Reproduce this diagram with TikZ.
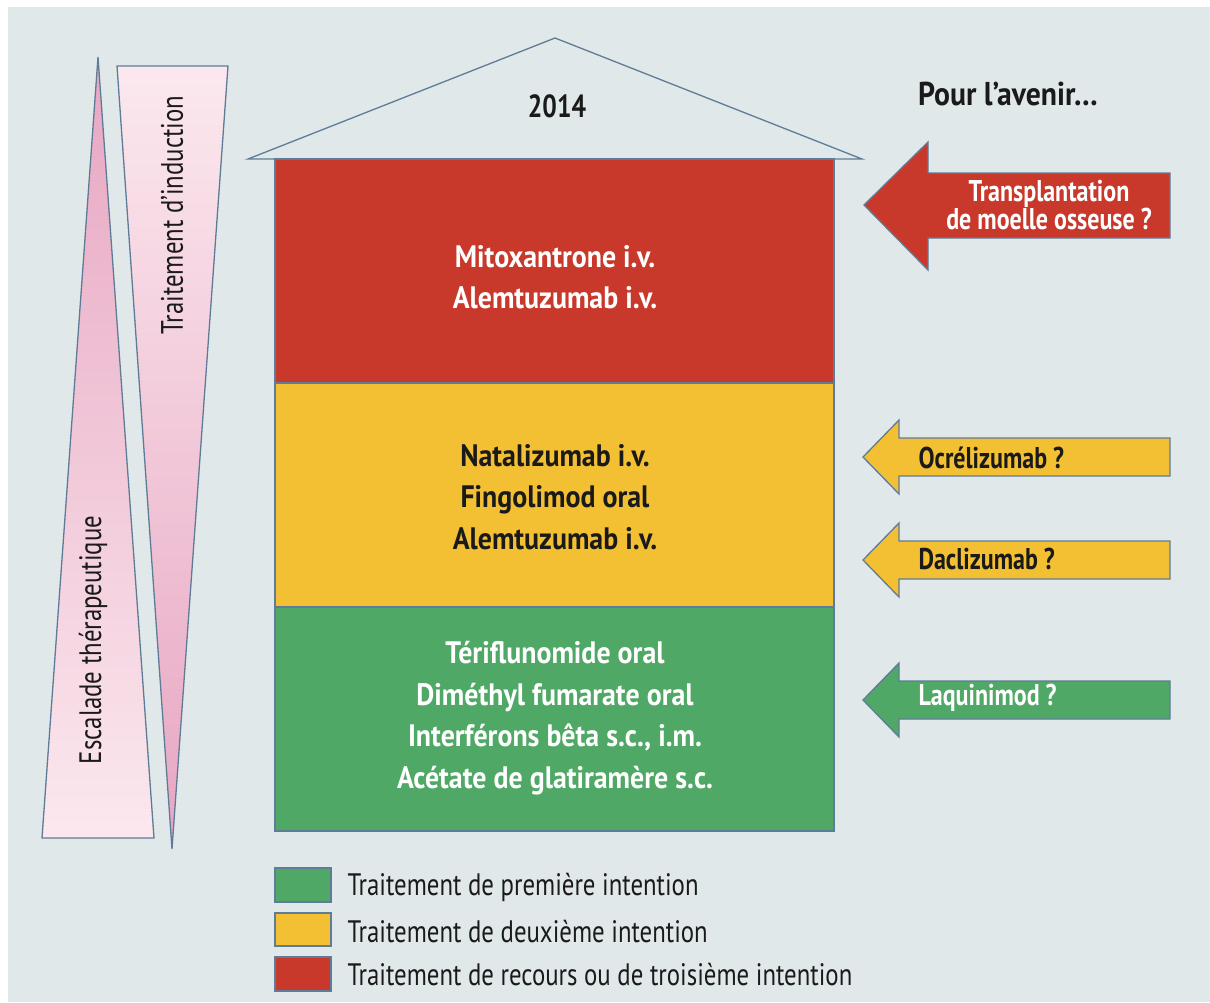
\documentclass[tikz,border=0pt]{standalone}
\usepackage{fontspec}
\setmainfont[FakeStretch=0.8]{PT Sans}
\newfontfamily\widefont[FakeStretch=0.9]{PT Sans}
\definecolor{bg}{HTML}{E1E8EA}
\definecolor{edge}{HTML}{5E7C98}
\definecolor{cred}{HTML}{C8392B}
\definecolor{cyel}{HTML}{F4C033}
\definecolor{cgrn}{HTML}{4FA865}
\definecolor{pdark}{HTML}{E7A6C2}
\definecolor{plight}{HTML}{FBE8EE}
\definecolor{ink}{HTML}{1A1A1A}
\tikzset{
  outl/.style={draw=edge, line width=1.3pt, line join=miter},
  boxtxt/.style={font=\widefont\bfseries\fontsize{31}{41.5}\selectfont, align=center},
  arrtxt/.style={font=\bfseries\fontsize{30}{27}\selectfont},
  legtxt/.style={font=\fontsize{31}{31}\selectfont, text=ink, anchor=west},
  sidetxt/.style={font=\fontsize{31}{31}\selectfont, text=ink, rotate=90},
}
\begin{document}
\begin{tikzpicture}[x=1pt,y=-1pt]
\useasboundingbox (0,0) rectangle (1210,1002);
\fill[white] (0,0) rectangle (1210,1002);
\fill[bg] (8,7) rectangle (1210,1002);

% left rising wedge
\shade[top color=pdark, bottom color=plight] (98,57) -- (154,838) -- (42,838) -- cycle;
\draw[outl] (98,57) -- (154,838) -- (42,838) -- cycle;
\node[sidetxt] (esc) at (93,640) {Escalade thérapeutique};

% right falling wedge
\shade[top color=plight, bottom color=pdark] (117,66) -- (228,66) -- (172,849) -- cycle;
\draw[outl] (117,66) -- (228,66) -- (172,849) -- cycle;
\node[sidetxt] (ind) at (172,215) {Traitement d’induction};

% roof
\draw[outl] (248,159) -- (555,38) -- (862,159) -- cycle;
\node[font=\bfseries\fontsize{32}{32}\selectfont, text=ink] (yr) at (557,106) {2014};

% tiers
\draw[outl, fill=cred] (275,159) rectangle (834,383);
\draw[outl, fill=cyel] (275,383) rectangle (834,607);
\draw[outl, fill=cgrn] (275,607) rectangle (834,831);
\node[boxtxt, text=white] (t3) at (555,277) {Mitoxantrone i.v.\\Alemtuzumab i.v.};
\node[boxtxt, text=ink] (t2) at (555,497) {Natalizumab i.v.\\Fingolimod oral\\Alemtuzumab i.v.};
\node[boxtxt, text=white] (t1) at (555,718) {Tériflunomide oral\\Diméthyl fumarate oral\\Interférons bêta s.c., i.m.\\Acétate de glatiramère s.c.};

% future
\node[font=\widefont\bfseries\fontsize{33}{33}\selectfont, text=ink] (fut) at (1008,94) {Pour l’avenir\ldots};

\draw[outl, fill=cred] (864,205) -- (928,142) -- (928,173) -- (1170,173) -- (1170,238) -- (928,238) -- (928,270) -- cycle;
\node[arrtxt, text=white, align=center] (a1) at (1049,205) {Transplantation\\de moelle osseuse ?};

\draw[outl, fill=cyel] (863,457) -- (899,420) -- (899,438) -- (1170,438) -- (1170,476) -- (899,476) -- (899,494) -- cycle;
\node[arrtxt, text=ink, anchor=west] (a2) at (915,458) {Ocrélizumab ?};

\draw[outl, fill=cyel] (863,560) -- (899,523) -- (899,541) -- (1170,541) -- (1170,579) -- (899,579) -- (899,597) -- cycle;
\node[arrtxt, text=ink, anchor=west] (a3) at (915,559) {Daclizumab ?};

\draw[outl, fill=cgrn] (863,700) -- (899,663) -- (899,681) -- (1170,681) -- (1170,719) -- (899,719) -- (899,737) -- cycle;
\node[arrtxt, text=white, anchor=west] (a4) at (915,698) {Laquinimod ?};

% legend
\draw[outl, fill=cgrn] (275,868) rectangle (331,902);
\draw[outl, fill=cyel] (275,913) rectangle (331,946);
\draw[outl, fill=cred] (275,957) rectangle (331,991);
\node[legtxt] (l1) at (344,887) {Traitement de première intention};
\node[legtxt] (l2) at (344,932) {Traitement de deuxième intention};
\node[legtxt] (l3) at (344,975) {Traitement de recours ou de troisième intention};
\end{tikzpicture}
\end{document}
